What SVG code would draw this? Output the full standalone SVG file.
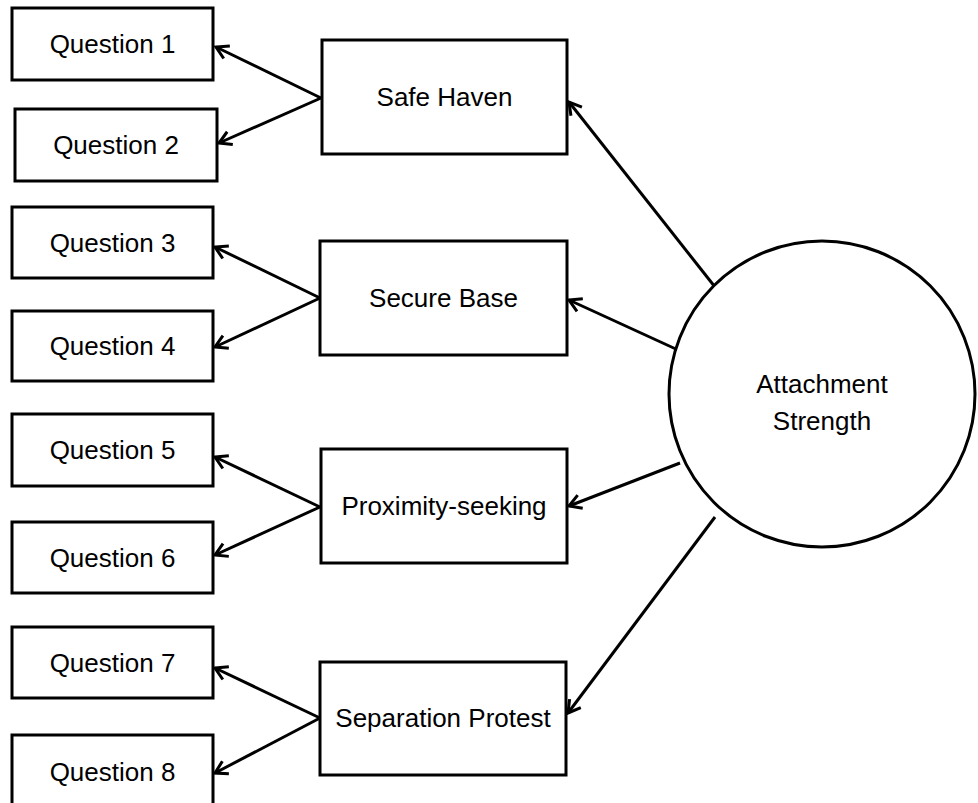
<svg xmlns="http://www.w3.org/2000/svg" width="978" height="803" viewBox="0 0 978 803">
<style>
.box{fill:#fff;stroke:#000;stroke-width:3}
.t{font-family:"Liberation Sans",Arial,sans-serif;font-size:26px;fill:#000;text-anchor:middle}
.c{stroke:#000;stroke-width:3;fill:none;marker-end:url(#ah)}
</style>
<defs>
<marker id="ah" markerUnits="userSpaceOnUse" markerWidth="20" markerHeight="20" viewBox="-14 -10 16 20" refX="0" refY="0" orient="auto">
<path d="M -12 -7 L 0 0 L -12 7" fill="none" stroke="#000" stroke-width="3" stroke-linejoin="miter"/>
</marker>
</defs>
<rect width="978" height="803" fill="#fff"/>
<g id="connectors">
<line class="c" x1="321" y1="98" x2="216" y2="47"/>
<line class="c" x1="321" y1="98" x2="219" y2="143"/>
<line class="c" x1="320" y1="298" x2="215" y2="247"/>
<line class="c" x1="320" y1="298" x2="215" y2="347"/>
<line class="c" x1="320" y1="507" x2="215" y2="457"/>
<line class="c" x1="320" y1="507" x2="215" y2="555"/>
<line class="c" x1="320" y1="718" x2="215" y2="668"/>
<line class="c" x1="320" y1="718" x2="215" y2="773"/>
<line class="c" x1="715" y1="287" x2="569" y2="102"/>
<line class="c" x1="678" y1="350" x2="569" y2="300"/>
<line class="c" x1="680" y1="463" x2="569" y2="506"/>
<line class="c" x1="715" y1="517" x2="568" y2="713"/>
</g>
<g id="q1"><rect class="box" x="12" y="8" width="201" height="72"/><text class="t" x="112.5" y="53">Question 1</text></g>
<g id="q2"><rect class="box" x="15" y="109" width="202" height="72"/><text class="t" x="116" y="154">Question 2</text></g>
<g id="q3"><rect class="box" x="12" y="207" width="201" height="71"/><text class="t" x="112.5" y="252">Question 3</text></g>
<g id="q4"><rect class="box" x="12" y="311" width="201" height="70"/><text class="t" x="112.5" y="355">Question 4</text></g>
<g id="q5"><rect class="box" x="12" y="414" width="201" height="72"/><text class="t" x="112.5" y="459">Question 5</text></g>
<g id="q6"><rect class="box" x="12" y="522" width="201" height="71"/><text class="t" x="112.5" y="567">Question 6</text></g>
<g id="q7"><rect class="box" x="12" y="627" width="201" height="71"/><text class="t" x="112.5" y="672">Question 7</text></g>
<g id="q8"><rect class="box" x="12" y="735" width="201" height="72"/><text class="t" x="112.5" y="781">Question 8</text></g>
<g id="safe-haven"><rect class="box" x="322" y="40" width="245" height="114"/><text class="t" x="444.5" y="106">Safe Haven</text></g>
<g id="secure-base"><rect class="box" x="320" y="241" width="247" height="114"/><text class="t" x="443.5" y="307">Secure Base</text></g>
<g id="proximity-seeking"><rect class="box" x="321" y="449" width="246" height="114"/><text class="t" x="444" y="515">Proximity-seeking</text></g>
<g id="separation-protest"><rect class="box" x="320" y="662" width="246" height="113"/><text class="t" x="443" y="727">Separation Protest</text></g>
<g id="attachment-strength"><circle class="box" cx="822" cy="394" r="153"/><text class="t" x="822" y="393">Attachment</text><text class="t" x="822" y="430">Strength</text></g>
</svg>
